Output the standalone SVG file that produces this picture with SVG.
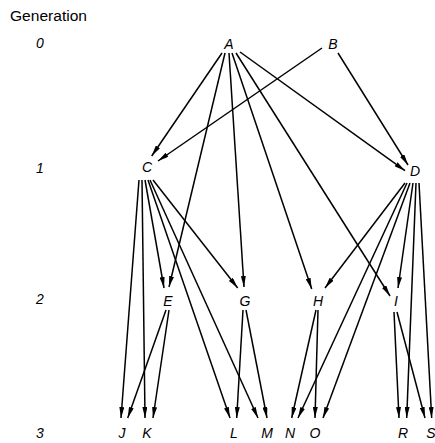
<svg xmlns="http://www.w3.org/2000/svg" width="435" height="443" viewBox="0 0 435 443">
<defs>
<marker id="ah" markerUnits="userSpaceOnUse" markerWidth="11" markerHeight="5" refX="11" refY="2.5" orient="auto">
<path d="M0,0 L11,2.5 L0,5 z" fill="#000"/>
</marker>
<style>
.e{stroke:#000;stroke-width:1.5;fill:none;marker-end:url(#ah)}
.n{font-family:"Liberation Sans",Arial,sans-serif;font-style:italic;font-size:14px;fill:#000;text-anchor:middle}
.g{font-family:"Liberation Sans",Arial,sans-serif;font-size:14px;fill:#000}
</style>
</defs>
<rect width="435" height="443" fill="#fff"/>
<g id="generation-labels">
<text class="g" x="10" y="21" textLength="77" lengthAdjust="spacingAndGlyphs">Generation</text>
<text class="n" x="40" y="48">0</text>
<text class="n" x="40" y="173">1</text>
<text class="n" x="40" y="304">2</text>
<text class="n" x="40" y="438">3</text>
</g>
<g id="connectors">
<line class="e" x1="222" y1="53" x2="151.7" y2="156"/>
<line class="e" x1="225" y1="53" x2="169" y2="287"/>
<line class="e" x1="229" y1="53" x2="244" y2="287"/>
<line class="e" x1="232" y1="53" x2="311.7" y2="289"/>
<line class="e" x1="236" y1="53" x2="390" y2="296"/>
<line class="e" x1="240" y1="52" x2="405" y2="170.7"/>
<line class="e" x1="322" y1="48" x2="158" y2="161"/>
<line class="e" x1="338" y1="53" x2="408" y2="165"/>
<line class="e" x1="139" y1="180" x2="121" y2="418"/>
<line class="e" x1="142" y1="180" x2="145" y2="418"/>
<line class="e" x1="145" y1="180" x2="164" y2="288"/>
<line class="e" x1="148" y1="180" x2="230" y2="418"/>
<line class="e" x1="150" y1="180" x2="258" y2="418"/>
<line class="e" x1="153" y1="180" x2="237.7" y2="288"/>
<line class="e" x1="405" y1="183" x2="325" y2="288"/>
<line class="e" x1="407" y1="183" x2="298" y2="418"/>
<line class="e" x1="410" y1="183" x2="323" y2="418"/>
<line class="e" x1="413" y1="183" x2="398" y2="288"/>
<line class="e" x1="416" y1="183" x2="406.7" y2="418"/>
<line class="e" x1="419" y1="183" x2="431.7" y2="418"/>
<line class="e" x1="166" y1="310" x2="127.7" y2="418"/>
<line class="e" x1="169" y1="310" x2="153" y2="418"/>
<line class="e" x1="243" y1="310" x2="236.7" y2="418"/>
<line class="e" x1="246" y1="310" x2="267" y2="418"/>
<line class="e" x1="316" y1="310" x2="291.7" y2="418"/>
<line class="e" x1="318" y1="310" x2="315" y2="418"/>
<line class="e" x1="394" y1="312" x2="399" y2="418"/>
<line class="e" x1="397" y1="312" x2="425" y2="418"/>
</g>
<g id="node-A"><text class="n" x="229" y="49">A</text></g>
<g id="node-B"><text class="n" x="333" y="49">B</text></g>
<g id="node-C"><text class="n" x="147" y="172">C</text></g>
<g id="node-D"><text class="n" x="415" y="176">D</text></g>
<g id="node-E"><text class="n" x="168" y="306">E</text></g>
<g id="node-G"><text class="n" x="245" y="306">G</text></g>
<g id="node-H"><text class="n" x="318" y="306">H</text></g>
<g id="node-I"><text class="n" x="396" y="306">I</text></g>
<g id="node-J"><text class="n" x="122" y="438">J</text></g>
<g id="node-K"><text class="n" x="147" y="438">K</text></g>
<g id="node-L"><text class="n" x="234" y="438">L</text></g>
<g id="node-M"><text class="n" x="267" y="438">M</text></g>
<g id="node-N"><text class="n" x="290" y="438">N</text></g>
<g id="node-O"><text class="n" x="315" y="438">O</text></g>
<g id="node-R"><text class="n" x="403" y="438">R</text></g>
<g id="node-S"><text class="n" x="431" y="438">S</text></g>
</svg>
